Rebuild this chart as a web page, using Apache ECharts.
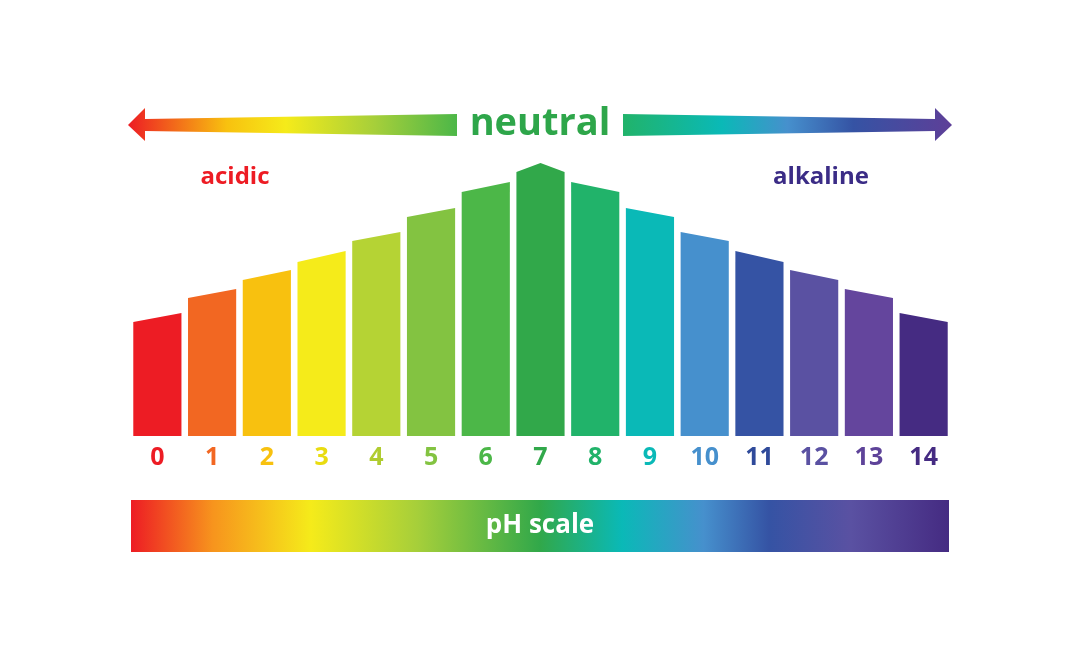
<!DOCTYPE html>
<html>
<head>
<meta charset="UTF-8">
<script src="https://cdn.jsdelivr.net/npm/echarts@6/dist/echarts.min.js"></script>
<style>html,body{margin:0;background:#fff}#main{width:1080px;height:665px}</style>
</head>
<body>
<div id="main"></div>
<script>
    var categories = ['0','1','2','3','4','5','6','7','8','9','10','11','12','13','14'];
    // bar top height at left edge, right edge and (only for 7) the peak in the middle
    var leftTop  = [114, 138, 156, 174, 195, 219, 244, 264, 254, 228, 204, 185, 166, 147, 123];
    var rightTop = [123, 147, 166, 185, 204, 228, 254, 264, 244, 219, 195, 174, 156, 138, 114];
    var peakTop  = [null, null, null, null, null, null, null, 273, null, null, null, null, null, null, null];
    var colors = ['#ed1c24','#f26722','#f8c10f','#f5eb1a','#b5d334','#83c341','#4cb748','#31a84a',
                  '#21b36a','#0ab9b7','#4690cd','#3553a4','#5a51a2','#64459d','#452b82'];
    var labelColors = ['#ed1c24','#f26722','#f8c10f','#e9dc10','#b0cc30','#83c341','#4cb748','#31a84a',
                  '#21b36a','#0ab9b7','#4690cd','#2f4a9a','#5a51a2','#5e4399','#452b82'];

    var myChart = echarts.init(document.getElementById('main'));

    var data = categories.map(function (c, i) {
        return [i, leftTop[i], rightTop[i], peakTop[i] == null ? -1 : peakTop[i]];
    });

    function renderBar(params, api) {
        var i = api.value(0);
        var c = api.coord([i, 0]);
        var w = api.size([1, 0])[0] * 0.88;
        var x0 = c[0] - w / 2, x1 = c[0] + w / 2;
        var pts = [[x0, c[1]], [x0, api.coord([i, api.value(1)])[1]]];
        if (api.value(3) > 0) pts.push([c[0], api.coord([i, api.value(3)])[1]]);
        pts.push([x1, api.coord([i, api.value(2)])[1]]);
        pts.push([x1, c[1]]);
        return {type: 'polygon', shape: {points: pts}, style: {fill: colors[i]}};
    }

    var font = '"Open Sans", sans-serif';
    var option = {
        animation: false,
        grid: {left: 130, right: 129, top: 136, bottom: 229},
        xAxis: {
            type: 'category',
            data: categories,
            axisLine: {show: false}, axisTick: {show: false},
            axisLabel: {
                margin: 9, fontSize: 25, fontWeight: 'bold', fontFamily: font,
                color: function (v, idx) { return labelColors[categories.indexOf(v)]; }
            }
        },
        yAxis: {type: 'value', min: 0, max: 300, show: false},
        series: [{type: 'custom', renderItem: renderBar, data: data}],
        graphic: [
            {type: 'polygon', shape: {points: [[128,125],[145,108],[145,119],[457,114],[457,136],[145,131],[145,141]]},
             style: {fill: new echarts.graphic.LinearGradient(0,0,1,0,[
                 {offset:0,color:'#ed1c24'},{offset:0.3,color:'#f8c10f'},{offset:0.48,color:'#f5eb1a'},
                 {offset:0.75,color:'#a6cf3a'},{offset:1,color:'#4cb748'}])}},
            {type: 'polygon', shape: {points: [[952,125],[935,108],[935,119],[623,114],[623,136],[935,131],[935,141]]},
             style: {fill: new echarts.graphic.LinearGradient(0,0,1,0,[
                 {offset:0,color:'#21b36a'},{offset:0.3,color:'#0ab9b7'},{offset:0.5,color:'#4690cd'},
                 {offset:0.7,color:'#3553a4'},{offset:1,color:'#5e3f98'}])}},
            {type: 'text', x: 540, y: 124, style: {text: 'neutral', fill: '#2ea64a', font: 'bold 38px ' + font,
                align: 'center', verticalAlign: 'middle'}},
            {type: 'text', x: 235, y: 177, style: {text: 'acidic', fill: '#ed1c24', font: 'bold 24px ' + font,
                align: 'center', verticalAlign: 'middle'}},
            {type: 'text', x: 821, y: 177, style: {text: 'alkaline', fill: '#3b2c86', font: 'bold 24px ' + font,
                align: 'center', verticalAlign: 'middle'}},
            {type: 'rect', shape: {x: 131, y: 500, width: 818, height: 52},
             style: {fill: new echarts.graphic.LinearGradient(0,0,1,0,[
                 {offset:0,color:'#ed1c24'},{offset:0.1,color:'#f7941d'},{offset:0.22,color:'#f5eb1a'},
                 {offset:0.35,color:'#a6cf3a'},{offset:0.5,color:'#31a84a'},{offset:0.6,color:'#0ab9b7'},
                 {offset:0.7,color:'#4690cd'},{offset:0.78,color:'#3553a4'},{offset:0.88,color:'#5a51a2'},
                 {offset:1,color:'#452b82'}])}},
            {type: 'text', x: 540, y: 526, style: {text: 'pH scale', fill: '#ffffff', font: 'bold 26px ' + font,
                align: 'center', verticalAlign: 'middle'}}
        ]
    };
    myChart.setOption(option);
</script>
</body>
</html>
